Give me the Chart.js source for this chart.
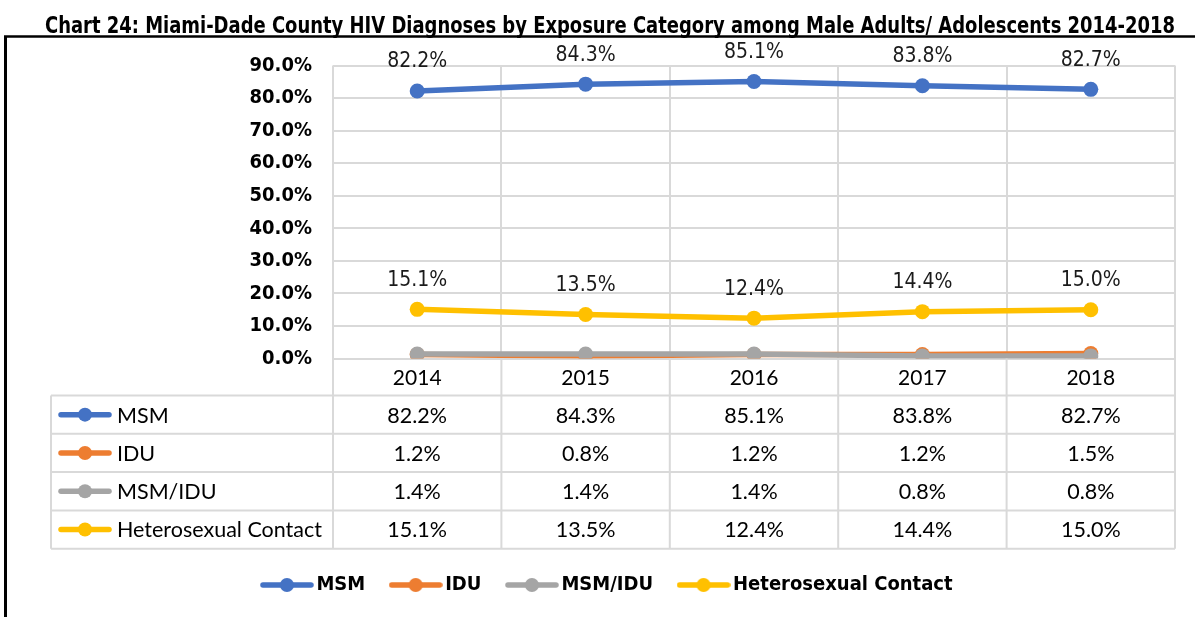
<!DOCTYPE html>
<html>
<head>
<meta charset="utf-8">
<script src="https://cdn.jsdelivr.net/npm/chart.js@4.4.0/dist/chart.umd.min.js"></script>
<style>
  html, body { margin: 0; padding: 0; background: #fff; }
  #wrap { width: 1195px; height: 617px; }
</style>
</head>
<body>
<div id="wrap"><canvas id="myChart" width="1195" height="617"></canvas></div>
<script>
'use strict';

const years = ['2014', '2015', '2016', '2017', '2018'];
const seriesNames = ['MSM', 'IDU', 'MSM/IDU', 'Heterosexual Contact'];
const msm = [82.2, 84.3, 85.1, 83.8, 82.7];
const idu = [1.2, 0.8, 1.2, 1.2, 1.5];
const msmIdu = [1.4, 1.4, 1.4, 0.8, 0.8];
const hetero = [15.1, 13.5, 12.4, 14.4, 15.0];
const yTicks = [0, 10, 20, 30, 40, 50, 60, 70, 80, 90];
const colors = ['#4472C4', '#ED7D31', '#A5A5A5', '#FFC000'];

const NARROW = '"Liberation Sans Narrow", "Arial Narrow", "DejaVu Sans Condensed", sans-serif';
const BODY = 'Lato, Carlito, Calibri, sans-serif';
const GRID = '#d9d9d9';

const pct = v => v.toFixed(1) + '%';

// line-with-dot marker used in legend and data table
function drawMarker(ctx, color, cx, cy) {
  ctx.save();
  ctx.strokeStyle = color;
  ctx.fillStyle = color;
  ctx.lineWidth = 5.5;
  ctx.lineCap = 'round';
  ctx.beginPath();
  ctx.moveTo(cx - 24, cy);
  ctx.lineTo(cx + 24, cy);
  ctx.stroke();
  ctx.beginPath();
  ctx.arc(cx, cy, 7, 0, Math.PI * 2);
  ctx.fill();
  ctx.restore();
}

const icons = colors.map(c => {
  const cv = document.createElement('canvas');
  cv.width = 54;
  cv.height = 16;
  drawMarker(cv.getContext('2d'), c, 27, 8);
  return cv;
});

const frame = {
  id: 'frame',
  beforeDraw(chart) {
    const ctx = chart.ctx;
    ctx.save();
    ctx.fillStyle = '#fff';
    ctx.fillRect(0, 0, chart.width, chart.height);
    ctx.strokeStyle = '#000';
    ctx.lineWidth = 2.5;
    ctx.beginPath();
    ctx.moveTo(4, 36.5);
    ctx.lineTo(chart.width, 36.5);
    ctx.stroke();
    ctx.lineWidth = 3;
    ctx.beginPath();
    ctx.moveTo(5.5, 36);
    ctx.lineTo(5.5, chart.height);
    ctx.stroke();
    ctx.restore();
  }
};

const pointLabels = {
  id: 'pointLabels',
  afterDatasetsDraw(chart) {
    const ctx = chart.ctx;
    ctx.save();
    ctx.font = '21px ' + NARROW;
    ctx.fillStyle = '#1a1a1a';
    ctx.textAlign = 'center';
    ctx.textBaseline = 'middle';
    [0, 3].forEach(di => {
      const ds = chart.data.datasets[di];
      chart.getDatasetMeta(di).data.forEach((pt, i) => {
        ctx.fillText(pct(ds.data[i]), pt.x, pt.y - 29);
      });
    });
    ctx.restore();
  }
};

const dataTable = {
  id: 'dataTable',
  afterDraw(chart) {
    const ctx = chart.ctx;
    const xs = chart.scales.x;
    const area = chart.chartArea;
    const colW = (xs.right - xs.left) / years.length;
    const top = area.bottom + 37;
    const rowH = 38.3;
    const left = 51;
    const sets = chart.data.datasets;
    const bottom = top + rowH * sets.length;

    ctx.save();
    ctx.strokeStyle = GRID;
    ctx.lineWidth = 2;
    ctx.beginPath();
    for (let r = 0; r <= sets.length; r++) {
      ctx.moveTo(left, top + r * rowH);
      ctx.lineTo(xs.right, top + r * rowH);
    }
    ctx.moveTo(left, top);
    ctx.lineTo(left, bottom);
    for (let c = 0; c <= years.length; c++) {
      ctx.moveTo(xs.left + c * colW, area.bottom);
      ctx.lineTo(xs.left + c * colW, bottom);
    }
    ctx.stroke();

    ctx.fillStyle = '#000';
    ctx.textBaseline = 'middle';
    ctx.font = '21.5px ' + BODY;
    sets.forEach((ds, r) => {
      const cy = top + r * rowH + rowH / 2;
      drawMarker(ctx, ds.borderColor, 85, cy);
      ctx.textAlign = 'left';
      ctx.fillText(ds.label, 117, cy + 1);
      ctx.textAlign = 'center';
      ds.data.forEach((v, i) => {
        ctx.fillText(pct(v), xs.getPixelForValue(i), cy + 1);
      });
    });
    ctx.restore();
  }
};

const ctx = document.getElementById('myChart').getContext('2d');

const seriesData = [msm, idu, msmIdu, hetero];
const datasets = seriesNames.map((name, i) => ({
  label: name,
  data: seriesData[i],
  borderColor: colors[i],
  backgroundColor: colors[i],
  borderWidth: 5.5,
  pointRadius: 7.5,
  pointHoverRadius: 7.5,
  pointBorderWidth: 0,
  order: seriesNames.length - 1 - i,
  tension: 0
}));

const myChart = new Chart(ctx, {
  type: 'line',
  data: { labels: years, datasets: datasets },
  options: {
    responsive: false,
    animation: false,
    layout: { padding: { top: 0, left: 45, right: 20, bottom: 12 } },
    plugins: {
      title: {
        display: true,
        text: 'Chart 24: Miami-Dade County HIV Diagnoses by Exposure Category among Male Adults/ Adolescents 2014-2018',
        color: '#000',
        font: { family: NARROW, size: 23, weight: 'bold' },
        padding: { top: 13, bottom: 25 }
      },
      legend: {
        position: 'bottom',
        labels: {
          usePointStyle: true,
          pointStyleWidth: 39,
          padding: 31,
          color: '#000',
          font: { family: NARROW, size: 20, weight: 'bold' },
          generateLabels: chart => chart.data.datasets.map((ds, i) => ({
            text: ds.label,
            pointStyle: icons[i],
            fillStyle: ds.borderColor,
            strokeStyle: ds.borderColor,
            lineWidth: 0,
            hidden: false,
            datasetIndex: i,
            fontColor: '#000'
          }))
        }
      },
      tooltip: { enabled: false }
    },
    scales: {
      x: {
        offset: true,
        grid: { color: GRID, lineWidth: 2, offset: true, drawTicks: false },
        border: { display: false },
        ticks: { color: '#000', font: { family: BODY, size: 21 }, padding: 7 },
        afterFit: s => { s.height = 185.5; }
      },
      y: {
        min: 0,
        max: 90,
        afterBuildTicks: s => { s.ticks = yTicks.map(v => ({ value: v })); },
        grid: { color: GRID, lineWidth: 2, drawTicks: false },
        border: { display: false },
        ticks: {
          color: '#000',
          font: { family: NARROW, size: 20, weight: 'bold' },
          padding: 21,
          callback: v => pct(v)
        },
        afterFit: s => { s.width = 288; }
      }
    }
  },
  plugins: [frame, pointLabels, dataTable]
});
</script>
</body>
</html>
